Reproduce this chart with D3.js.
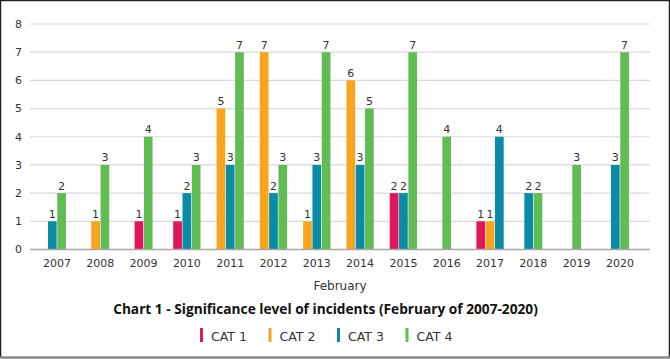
<!DOCTYPE html>
<html>
<head>
<meta charset="utf-8">
<script src="https://cdn.jsdelivr.net/npm/d3@7"></script>
<style>
  body { margin: 0; background: #fff; }
  svg { display: block; }
  text { font-family: "DejaVu Sans", sans-serif; fill: #333; }
</style>
</head>
<body>
<div class="visualisation"></div>
<script>
// Chart data
const years = ["2007", "2008", "2009", "2010", "2011", "2012", "2013",
    "2014", "2015", "2016", "2017", "2018", "2019", "2020"];
const categories = ["CAT 1", "CAT 2", "CAT 3", "CAT 4"];
const cat1 = [0, 0, 1, 1, 0, 0, 0, 0, 2, 0, 1, 0, 0, 0];
const cat2 = [0, 1, 0, 0, 5, 7, 1, 6, 0, 0, 1, 0, 0, 0];
const cat3 = [1, 0, 0, 2, 3, 2, 3, 3, 2, 0, 4, 2, 0, 3];
const cat4 = [2, 3, 4, 3, 7, 3, 7, 5, 7, 4, 0, 2, 3, 7];
const yTicks = [0, 1, 2, 3, 4, 5, 6, 7, 8];
const colors = ["#e2175b", "#f8a51d", "#0a8ba6", "#61bc53"];

// Size related variables
const width = 670;
const height = 359;
const plot = { left: 30, right: 650, top: 24, bottom: 249.5 };
const barWidth = 8.7;
const barStep = 9.3;

const svg = d3.select(".visualisation")
    .append("svg")
    .attr("width", width)
    .attr("height", height)
    .attr("viewBox", `0 0 ${width} ${height}`);

// frame
svg.append("rect")
    .attr("x", 0.5).attr("y", 0.5)
    .attr("width", width - 1).attr("height", height - 2)
    .attr("fill", "none")
    .attr("stroke", "#222")
    .attr("stroke-width", 1.5);
svg.append("line")
    .attr("x1", 0).attr("x2", width)
    .attr("y1", height - 1.5).attr("y2", height - 1.5)
    .attr("stroke", "#888")
    .attr("stroke-width", 2);

const x = d3.scaleBand()
    .domain(years)
    .range([35.3, 641.6]);

const y = d3.scaleLinear()
    .domain([0, 8])
    .range([plot.bottom, plot.top]);

// gridlines
svg.append("g")
    .selectAll("line")
    .data(yTicks.filter(d => d > 0))
    .enter()
    .append("line")
    .attr("x1", plot.left)
    .attr("x2", plot.right)
    .attr("y1", d => y(d))
    .attr("y2", d => y(d))
    .attr("stroke", "#d9d9d9")
    .attr("stroke-width", 1.2);

// y tick labels
svg.append("g")
    .selectAll("text")
    .data(yTicks)
    .enter()
    .append("text")
    .attr("x", 18.5)
    .attr("y", d => y(d))
    .attr("dy", "0.35em")
    .attr("text-anchor", "middle")
    .style("font-size", "11px")
    .text(d => d);

// bars: only non-zero categories drawn, centred within each year
const series = [cat1, cat2, cat3, cat4];
const table = years.map((yr, i) => {
    const present = series
        .map((s, k) => ({ key: k, value: s[i] }))
        .filter(d => d.value > 0);
    const total = present.length * barStep - (barStep - barWidth);
    const start = x(yr) + x.bandwidth() / 2 - total / 2;
    present.forEach((d, j) => { d.x = start + j * barStep; });
    return { year: yr, bars: present };
});

const groups = svg.append("g")
    .selectAll("g")
    .data(table)
    .enter()
    .append("g");

groups.selectAll("rect")
    .data(d => d.bars)
    .enter()
    .append("rect")
    .attr("x", d => d.x)
    .attr("y", d => y(d.value))
    .attr("width", barWidth)
    .attr("height", d => y(0) - y(d.value))
    .attr("fill", d => colors[d.key]);

groups.selectAll("text")
    .data(d => d.bars)
    .enter()
    .append("text")
    .attr("x", d => d.x + barWidth / 2)
    .attr("y", d => y(d.value) - 3.5)
    .attr("text-anchor", "middle")
    .style("font-size", "11px")
    .text(d => d.value);

// x axis baseline
svg.append("line")
    .attr("x1", plot.left)
    .attr("x2", plot.right)
    .attr("y1", y(0))
    .attr("y2", y(0))
    .attr("stroke", "#a6a6a6")
    .attr("stroke-width", 1.6);

// year labels
svg.append("g")
    .selectAll("text")
    .data(years)
    .enter()
    .append("text")
    .attr("x", d => x(d) + x.bandwidth() / 2)
    .attr("y", 267)
    .attr("text-anchor", "middle")
    .style("font-size", "11px")
    .text(d => d);

svg.append("text")
    .attr("x", 340)
    .attr("y", 290)
    .attr("text-anchor", "middle")
    .style("font-size", "12px")
    .text("February");

svg.append("text")
    .attr("x", 325.5)
    .attr("y", 313.5)
    .attr("text-anchor", "middle")
    .style("font-family", "'Open Sans', sans-serif")
    .style("font-weight", "bold")
    .style("font-size", "13.7px")
    .style("fill", "#111")
    .text("Chart 1 - Significance level of incidents (February of 2007-2020)");

// legend
const legend = svg.append("g")
    .selectAll("g")
    .data(categories)
    .enter()
    .append("g")
    .attr("transform", (d, i) => `translate(${200 + i * 68.5},328)`);

legend.append("rect")
    .attr("width", 3)
    .attr("height", 14)
    .attr("fill", (d, i) => colors[i]);

legend.append("text")
    .attr("x", 11)
    .attr("y", 13)
    .style("font-size", "12.5px")
    .text(d => d);
</script>
</body>
</html>
